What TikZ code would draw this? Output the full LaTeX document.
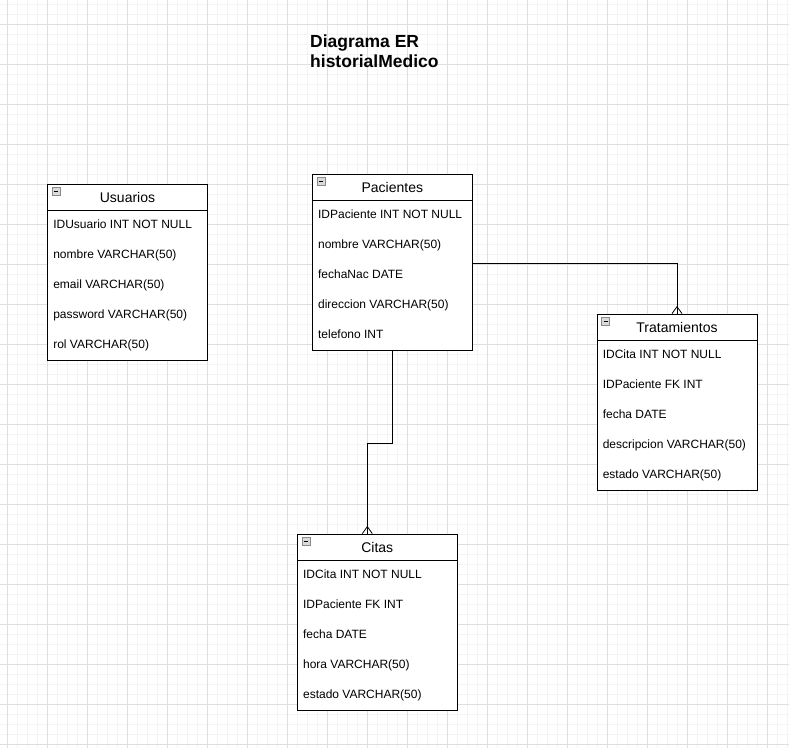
\documentclass[tikz,border=0pt]{standalone}
\usepackage{fontspec}
\setmainfont{Liberation Sans}
\usetikzlibrary{positioning}
\definecolor{gridminor}{HTML}{F4F4F4}
\definecolor{gridmajor}{HTML}{DFDFDF}
\definecolor{iconline}{HTML}{8A8A8A}
\definecolor{iconfill}{HTML}{DADADA}
\tikzset{
    tblhead/.style={draw, fill=white, line width=0.8pt, minimum width=160pt, minimum height=26pt, inner sep=0pt, font=\fontsize{14}{16}\selectfont},
    tblbody/.style={draw, fill=white, line width=0.8pt, minimum width=160pt, minimum height=150pt, inner sep=0pt},
    fld/.style={anchor=base west, inner sep=0pt, font=\fontsize{12}{14}\selectfont},
    rel/.style={line width=0.8pt},
    crowfoot/.pic={\draw[line width=0.8pt] (0,-7)--(-5,0) (0,-7)--(5,0);},
    collapse/.pic={\draw[iconline, fill=iconfill, line width=0.5pt] (0,0) rectangle (8,8); \draw[line width=0.8pt] (2,4)--(6,4);}
}
\begin{document}
\begin{tikzpicture}[x=1pt,y=-1pt]
\fill[white] (0,0) rectangle (789,748);
\useasboundingbox (0,0) rectangle (789,748);

\begin{scope}
    \foreach \x in {7,17,...,787}
    {
        \draw[gridminor, line width=0.8pt] (\x,0)--(\x,748);
    }
    \foreach \y in {4,14,...,744}
    {
        \draw[gridminor, line width=0.8pt] (0,\y)--(789,\y);
    }
    \foreach \x in {7,47,...,787}
    {
        \draw[gridmajor, line width=0.8pt] (\x,0)--(\x,748);
    }
    \foreach \y in {24,64,...,744}
    {
        \draw[gridmajor, line width=0.8pt] (0,\y)--(789,\y);
    }
\end{scope}

\node[anchor=north west, align=left, inner sep=0pt, font=\bfseries\fontsize{17.5}{20}\selectfont] (ttl) at (310,35) {Diagrama ER\\historialMedico};

\node[tblhead] (usu) at (127.5,197) {Usuarios};
\node[tblbody, below=0pt of usu] (usuBody) {};
\pic at ([xshift=5pt,yshift=-4pt]usu.north west) {collapse};
\foreach \t [count=\i] in {IDUsuario INT NOT NULL, nombre VARCHAR(50), email VARCHAR(50), password VARCHAR(50), rol VARCHAR(50)}
{
    \node[fld] (usu\i) at ([xshift=6pt,yshift=-18pt-30pt*(\i-1)]usuBody.north west) {\t};
}

\node[tblhead] (pac) at (392.3,187) {Pacientes};
\node[tblbody, below=0pt of pac] (pacBody) {};
\pic at ([xshift=5pt,yshift=-4pt]pac.north west) {collapse};
\foreach \t [count=\i] in {IDPaciente INT NOT NULL, nombre VARCHAR(50), fechaNac DATE, direccion VARCHAR(50), telefono INT}
{
    \node[fld] (pac\i) at ([xshift=6pt,yshift=-18pt-30pt*(\i-1)]pacBody.north west) {\t};
}

\node[tblhead] (trat) at (677,327) {Tratamientos};
\node[tblbody, below=0pt of trat] (tratBody) {};
\pic at ([xshift=5pt,yshift=-4pt]trat.north west) {collapse};
\foreach \t [count=\i] in {IDCita INT NOT NULL, IDPaciente FK INT, fecha DATE, descripcion VARCHAR(50), estado VARCHAR(50)}
{
    \node[fld] (trat\i) at ([xshift=6pt,yshift=-18pt-30pt*(\i-1)]tratBody.north west) {\t};
}

\node[tblhead] (cit) at (377.3,547) {Citas};
\node[tblbody, below=0pt of cit] (citBody) {};
\pic at ([xshift=5pt,yshift=-4pt]cit.north west) {collapse};
\foreach \t [count=\i] in {IDCita INT NOT NULL, IDPaciente FK INT, fecha DATE, hora VARCHAR(50), estado VARCHAR(50)}
{
    \node[fld] (cit\i) at ([xshift=6pt,yshift=-18pt-30pt*(\i-1)]citBody.north west) {\t};
}

\coordinate (pacOut) at ([yshift=-62.5pt]pacBody.north east);
\coordinate (citIn) at ([xshift=-10pt]cit.north);
\draw[rel] (pacOut) -| (trat.north);
\pic at (trat.north) {crowfoot};
\draw[rel] (pacBody.south) -- ++(0,92) -| (citIn);
\pic at (citIn) {crowfoot};
\end{tikzpicture}
\end{document}
